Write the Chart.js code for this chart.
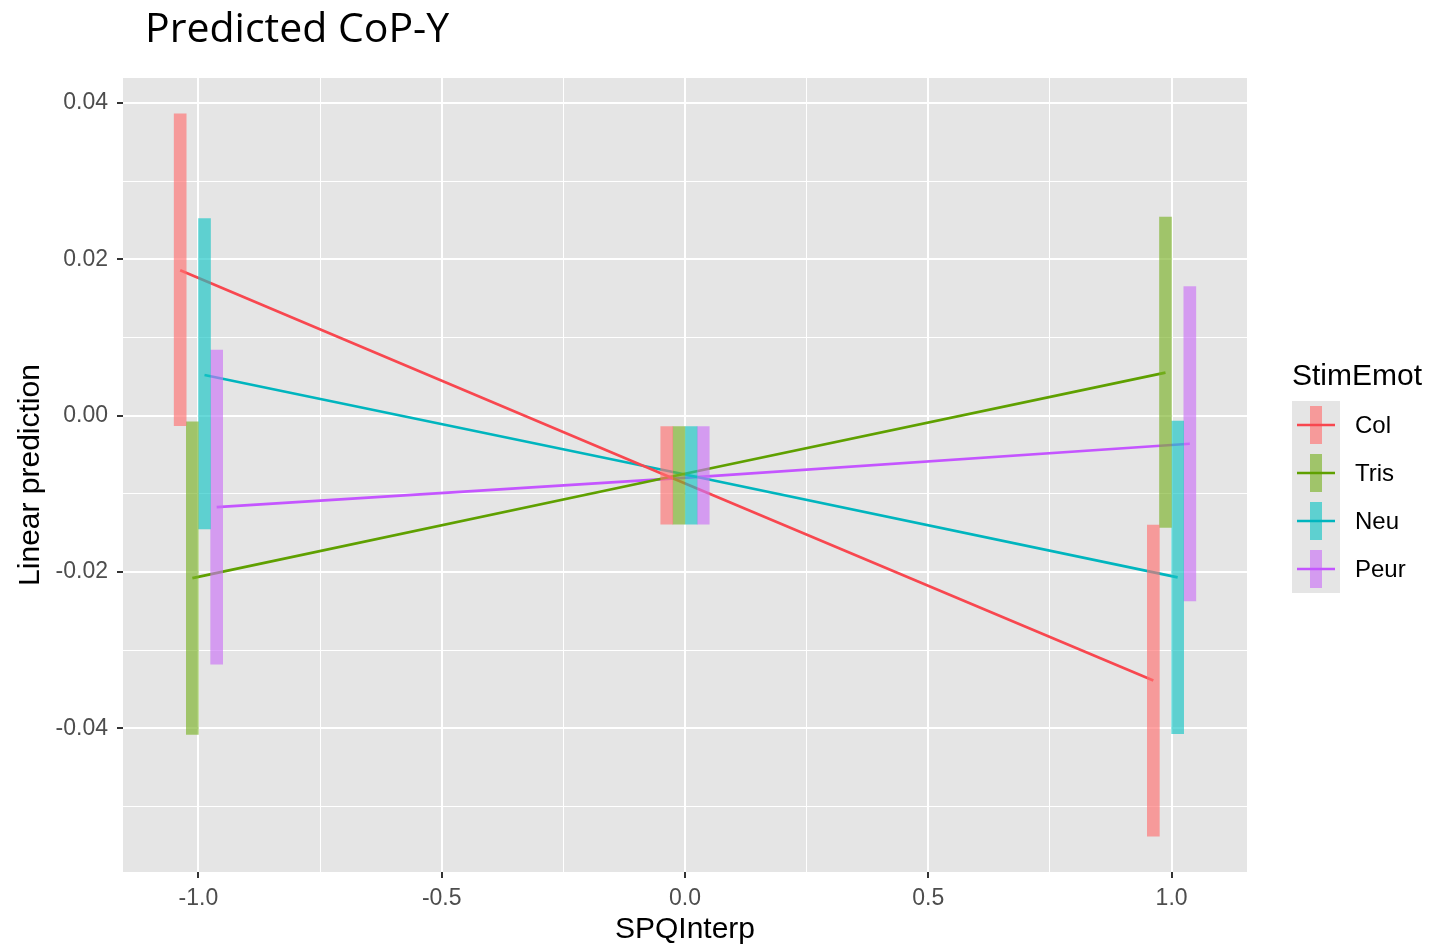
<!DOCTYPE html>
<html>
<head>
<meta charset="utf-8">
<script src="https://cdn.jsdelivr.net/npm/chart.js@4.4.1/dist/chart.umd.min.js"></script>
<style>
  html, body { margin: 0; padding: 0; background: #fff; }
  #wrap { width: 1450px; height: 945px; position: relative; }
</style>
</head>
<body>
<div id="wrap"><canvas id="copY" width="1450" height="945"></canvas></div>
<script>
// SPQInterp levels and emotion groups
var spqLevels = [-1, 0, 1];
var emotions = ["Col", "Tris", "Neu", "Peur"];
// dodge of each group around a level
var dodge = [-0.0375, -0.0125, 0.0125, 0.0375];

// predicted values (the lines)
var predCol  = [0.0186, -0.0077, -0.0339];
var predTris = [-0.0208, -0.0076, 0.0055];
var predNeu  = [0.0052, -0.0077, -0.0207];
var predPeur = [-0.0117, -0.0078, -0.0036];

// confidence intervals (the bars)
var lowCol   = [-0.0013, -0.0139, -0.0538];
var highCol  = [0.0386, -0.0014, -0.0140];
var lowTris  = [-0.0408, -0.0139, -0.0143];
var highTris = [-0.0008, -0.0014, 0.0254];
var lowNeu   = [-0.0145, -0.0139, -0.0407];
var highNeu  = [0.0252, -0.0014, -0.0007];
var lowPeur  = [-0.0318, -0.0139, -0.0237];
var highPeur = [0.0084, -0.0014, 0.0165];

// axis ticks
var xMajor = [-1, -0.5, 0, 0.5, 1];
var xMinor = [-0.75, -0.25, 0.25, 0.75];
var yMajor = [-0.04, -0.02, 0, 0.02, 0.04];
var yMinor = [-0.05, -0.03, -0.01, 0.01, 0.03];

var lineColors = ["#F8474F", "#5FA000", "#00B5BE", "#C455FF"];
var barColors = ["rgba(255,114,114,0.65)", "rgba(123,178,40,0.65)", "rgba(21,197,197,0.65)", "rgba(203,115,246,0.65)"];

var preds = [predCol, predTris, predNeu, predPeur];
var lows = [lowCol, lowTris, lowNeu, lowPeur];
var highs = [highCol, highTris, highNeu, highPeur];

function isMajor(c, list) {
  if (!c.tick) return true;
  return hasValue(c.tick.value, list);
}

function hasValue(v, list) {
  for (var k = 0; k < list.length; k++) {
    if (Math.abs(list[k] - v) < 1e-9) return true;
  }
  return false;
}

var datasets = [];
for (var i = 0; i < emotions.length; i++) {
  datasets.push({
    type: "bar",
    label: emotions[i] + " IC",
    data: spqLevels.map(function (v, j) {
      return { x: v + dodge[i], y: [lows[i][j], highs[i][j]] };
    }),
    backgroundColor: barColors[i],
    borderWidth: 0,
    barThickness: 12,
    grouped: false,
    order: 0
  });
  datasets.push({
    type: "line",
    label: emotions[i],
    data: spqLevels.map(function (v, j) {
      return { x: v + dodge[i], y: preds[i][j] };
    }),
    borderColor: lineColors[i],
    borderWidth: 2.7,
    pointRadius: 0,
    fill: false,
    order: 1
  });
}

var ggDecor = {
  id: "ggDecor",
  beforeDraw: function (chart) {
    var a = chart.chartArea;
    var c = chart.ctx;
    c.save();
    c.fillStyle = "#E5E5E5";
    c.fillRect(a.left, a.top, a.right - a.left, a.bottom - a.top);
    c.restore();
  },
  afterDraw: function (chart) {
    var c = chart.ctx;
    c.save();
    // title
    c.fillStyle = "#000";
    c.font = '41px "Open Sans"';
    c.textBaseline = "alphabetic";
    c.textAlign = "left";
    c.fillText("Predicted CoP-Y", 145, 42);

    // legend
    c.font = '30px "Liberation Sans"';
    c.fillText("StimEmot", 1292, 385);
    c.fillStyle = "#E5E5E5";
    c.fillRect(1292, 401, 48, 48 * emotions.length);
    c.font = '24px "Liberation Sans"';
    c.textBaseline = "middle";
    for (var i = 0; i < emotions.length; i++) {
      var cy = 401 + 24 + 48 * i;
      c.fillStyle = barColors[i];
      c.fillRect(1310, cy - 19, 12, 38);
      c.strokeStyle = lineColors[i];
      c.lineWidth = 2.7;
      c.beginPath();
      c.moveTo(1297, cy);
      c.lineTo(1335, cy);
      c.stroke();
      c.fillStyle = "#000";
      c.fillText(emotions[i], 1355, cy + 1);
    }
    c.restore();
  }
};

var ctx = document.getElementById("copY").getContext("2d");
var copChart = new Chart(ctx, {
  type: "bar",
  data: { datasets: datasets },
  plugins: [ggDecor],
  options: {
    responsive: false,
    animation: false,
    layout: { padding: { left: 0, right: 203, top: 78, bottom: 0 } },
    plugins: {
      legend: { display: false },
      tooltip: { enabled: false }
    },
    scales: {
      x: {
        type: "linear",
        min: -1.155,
        max: 1.155,
        offset: false,
        afterBuildTicks: function (axis) {
          axis.ticks = xMajor.concat(xMinor).sort(function (a, b) { return a - b; })
            .map(function (v) { return { value: v }; });
        },
        afterFit: function (axis) { axis.height = 73; },
        border: { display: false },
        grid: {
          offset: false,
          color: "#FFFFFF",
          lineWidth: function (c) { return isMajor(c, xMajor) ? 2 : 1; },
          tickColor: function (c) { return isMajor(c, xMajor) ? "#333333" : "rgba(0,0,0,0)"; },
          tickLength: 6,
          tickWidth: 2
        },
        ticks: {
          autoSkip: false,
          maxRotation: 0,
          padding: 7,
          color: "#4D4D4D",
          font: { family: "Liberation Sans", size: 23 },
          callback: function (v) { return hasValue(v, xMajor) ? v.toFixed(1) : ""; }
        },
        title: {
          display: true,
          text: "SPQInterp",
          color: "#000",
          font: { family: "Liberation Sans", size: 30 },
          padding: { top: 0, bottom: -3 }
        }
      },
      y: {
        type: "linear",
        min: -0.0584,
        max: 0.0432,
        afterBuildTicks: function (axis) {
          axis.ticks = yMajor.concat(yMinor).sort(function (a, b) { return a - b; })
            .map(function (v) { return { value: v }; });
        },
        afterFit: function (axis) { axis.width = 123; },
        border: { display: false },
        grid: {
          color: "#FFFFFF",
          lineWidth: function (c) { return isMajor(c, yMajor) ? 2 : 1; },
          tickColor: function (c) { return isMajor(c, yMajor) ? "#333333" : "rgba(0,0,0,0)"; },
          tickLength: 6,
          tickWidth: 2
        },
        ticks: {
          autoSkip: false,
          padding: 9,
          color: "#4D4D4D",
          font: { family: "Liberation Sans", size: 23 },
          callback: function (v) { return hasValue(v, yMajor) ? v.toFixed(2) : ""; }
        },
        title: {
          display: true,
          text: "Linear prediction",
          color: "#000",
          font: { family: "Liberation Sans", size: 30 },
          padding: { top: 13, bottom: 0 }
        }
      }
    }
  }
});
</script>
</body>
</html>
